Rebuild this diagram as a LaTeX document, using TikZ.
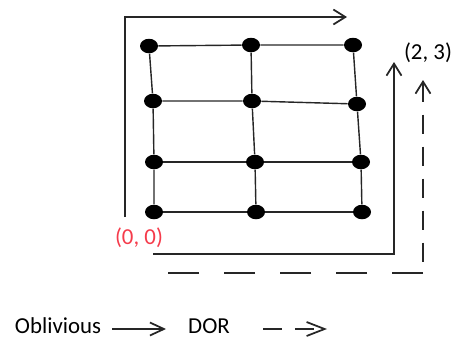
\documentclass[tikz,border=0pt]{standalone}
\usepackage{fontspec}
\setmainfont{Carlito}
\usetikzlibrary{arrows.meta,shapes.geometric}
\definecolor{ink}{HTML}{262626}
\definecolor{origin}{HTML}{F53B4B}

\begin{document}
\begin{tikzpicture}[x=0.02cm, y=-0.02cm,
  dot/.style={ellipse, fill=black, minimum width=0.36cm, minimum height=0.29cm, inner sep=0pt},
  link/.style={draw=ink, line width=0.8pt},
  route/.style={draw=ink, line width=1pt, -{Straight Barb[length=0.24cm, width=0.3cm]}},
  dorh/.style={route, -, dash pattern=on 0.62cm off 0.5cm},
  dorv/.style={route, {Straight Barb[length=0.24cm, width=0.3cm]}-, dash pattern=on 0.38cm off 0.26cm},
  lbl/.style={font=\fontsize{13}{15}\selectfont, inner sep=0pt}]
\useasboundingbox (0,0) rectangle (453,339);

% mesh, row by row
\node[dot] (d11) at (149,46) {};
\node[dot] (d12) at (251,45) {};
\node[dot] (d13) at (353,45) {};
\node[dot] (d21) at (153,101) {};
\node[dot] (d22) at (252,101) {};
\node[dot] (d23) at (357,104) {};
\node[dot] (d31) at (154,162) {};
\node[dot] (d32) at (255,162) {};
\node[dot] (d33) at (361,162) {};
\node[dot] (d41) at (154,212) {};
\node[dot] (d42) at (256,212) {};
\node[dot] (d43) at (362,212) {};
\foreach \row in {1,...,4}
  \draw[link] (d\row1) -- (d\row2) -- (d\row3);
\foreach \col in {1,2,3}
  \draw[link] (d1\col) -- (d2\col) -- (d3\col) -- (d4\col);

\node[lbl, text=origin] (org) at (139,238) {(0, 0)};
\node[lbl] (dst) at (428,53) {(2, 3)};

% oblivious route
\coordinate (a0) at (125,217);
\coordinate (a1) at (125,17);
\coordinate (a2) at (347,17);
\draw[route] (a0) -- (a1) -- (a2);

% two turn routes to (2,3)
\coordinate (b0) at (153,254);
\coordinate (b1) at (394,254);
\coordinate (b2) at (394,62);
\draw[route] (b0) -- (b1) -- (b2);
\coordinate (c0) at (167,273);
\coordinate (c1) at (423,273);
\coordinate (c2) at (423,80);
\draw[dorh] (c1) -- (c0);
\draw[dorv] (c2) -- (c1);

% legend
\node[lbl] (obl) at (58,326) {Oblivious};
\node[lbl] (dor) at (209,326) {DOR};
\coordinate (k0) at (112,329);
\coordinate (k1) at (166,329);
\coordinate (m0) at (263,329);
\coordinate (m1) at (327,329);
\draw[route, -{Straight Barb[length=0.28cm, width=0.26cm]}] (k0) -- (k1);
\draw[route, dash pattern=on 0.38cm off 0.26cm, -{Straight Barb[length=0.36cm, width=0.28cm]}] (m0) -- (m1);
\end{tikzpicture}
\end{document}
